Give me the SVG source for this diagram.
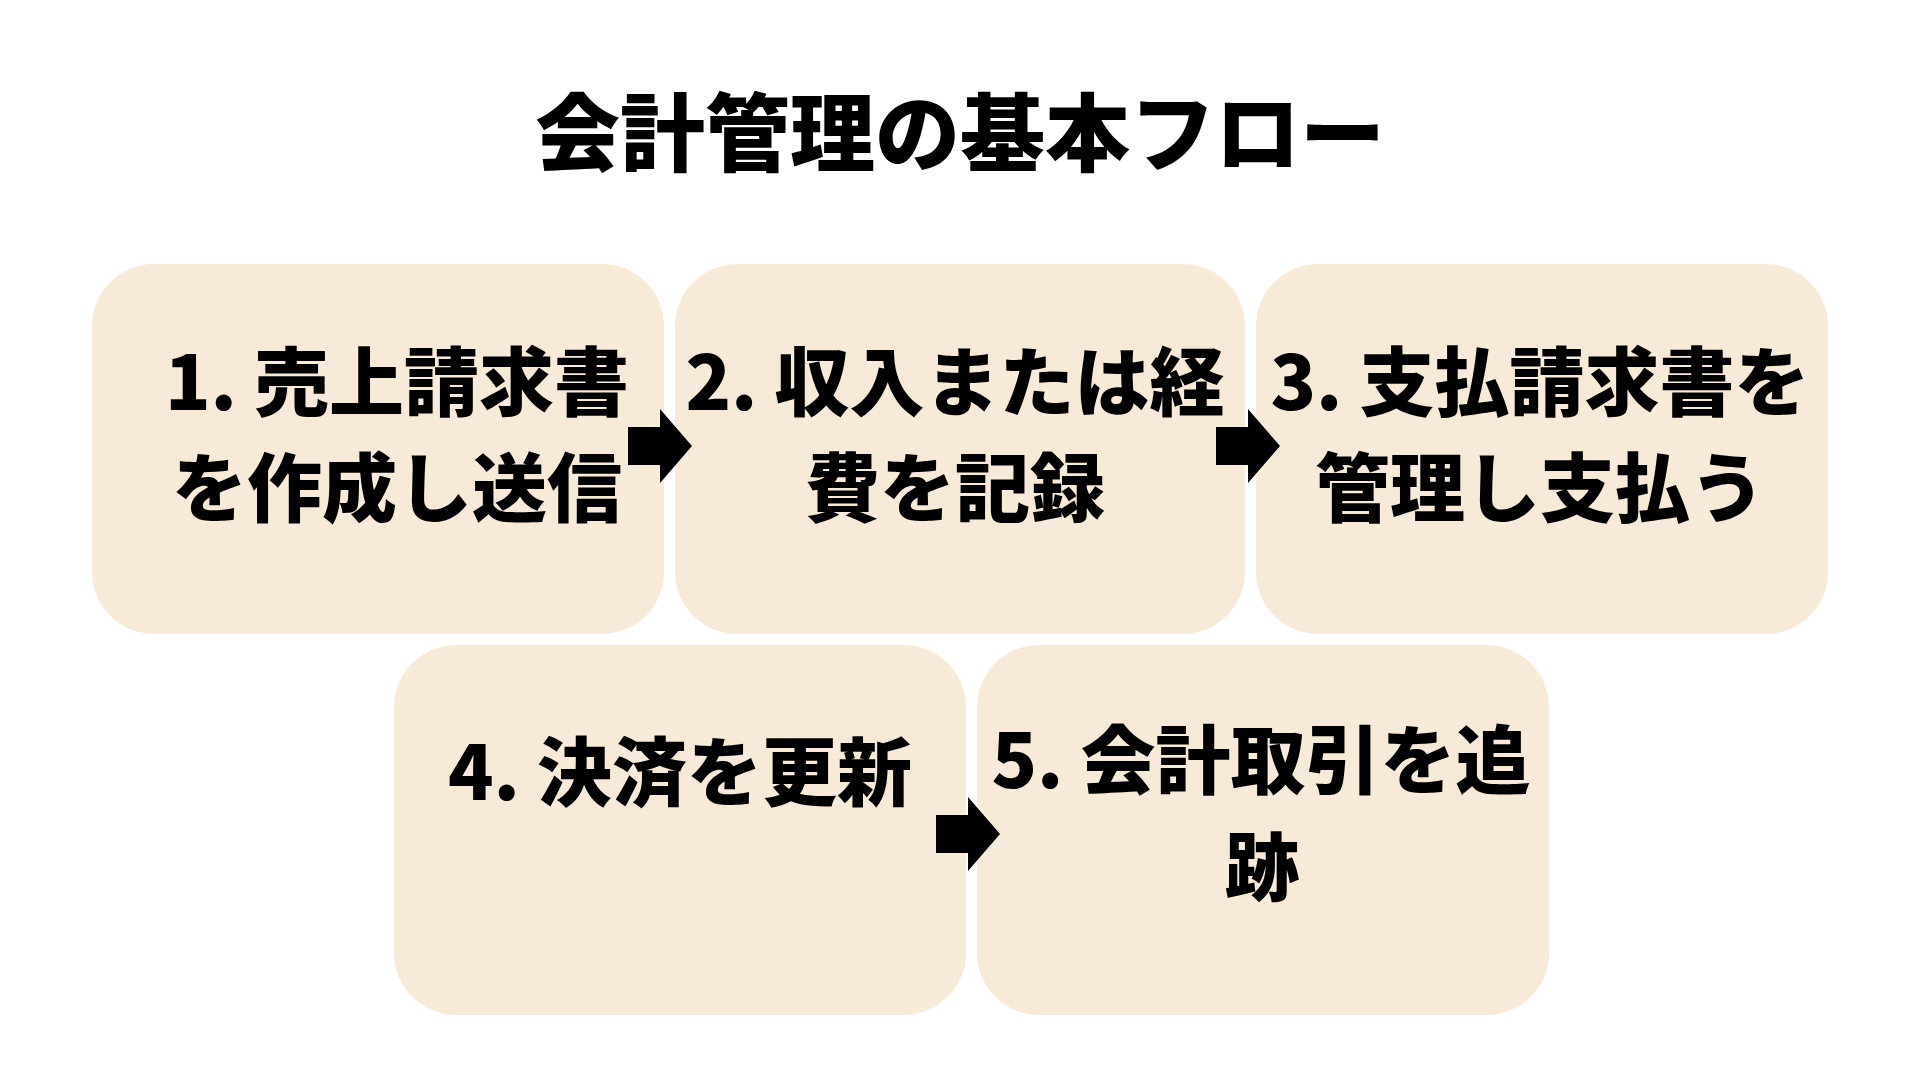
<svg xmlns="http://www.w3.org/2000/svg" width="1920" height="1080" viewBox="0 0 1920 1080">
<style>
.box{fill:#F8EAD9;}
.t{font-family:"Noto Sans CJK JP","Noto Sans CJK SC",sans-serif;font-weight:900;fill:#000;text-anchor:middle;}
.lbl{font-size:75px;}
.title{font-size:85px;}
.arr{fill:#000;}
</style>
<rect width="1920" height="1080" fill="#FFFFFF"/>
<text class="t title" x="960" y="165">会計管理の基本フロー</text>
<g id="node1"><rect class="box" x="92" y="264" width="572" height="370" rx="62"/><text class="t lbl" x="397" y="410">1. 売上請求書</text><text class="t lbl" x="397" y="516">を作成し送信</text></g>
<g id="node2"><rect class="box" x="675" y="264" width="570" height="370" rx="62"/><text class="t lbl" x="955" y="410">2. 収入または経</text><text class="t lbl" x="955" y="516">費を記録</text></g>
<g id="node3"><rect class="box" x="1256" y="264" width="572" height="370" rx="62"/><text class="t lbl" x="1540" y="410">3. 支払請求書を</text><text class="t lbl" x="1540" y="516">管理し支払う</text></g>
<g id="node4"><rect class="box" x="394" y="645" width="572" height="370" rx="62"/><text class="t lbl" x="680" y="800">4. 決済を更新</text></g>
<g id="node5"><rect class="box" x="977" y="645" width="572" height="370" rx="62"/><text class="t lbl" x="1261" y="788">5. 会計取引を追</text><text class="t lbl" x="1262" y="895">跡</text></g>
<g id="connectors">
<path class="arr" d="M628 427 H660 V409 L692 446 L660 483 V465 H628 Z"/>
<path class="arr" d="M1216 427 H1248 V409 L1280 446 L1248 483 V465 H1216 Z"/>
<path class="arr" d="M936 815 H968 V797 L1000 834 L968 871 V853 H936 Z"/>
</g>
</svg>
